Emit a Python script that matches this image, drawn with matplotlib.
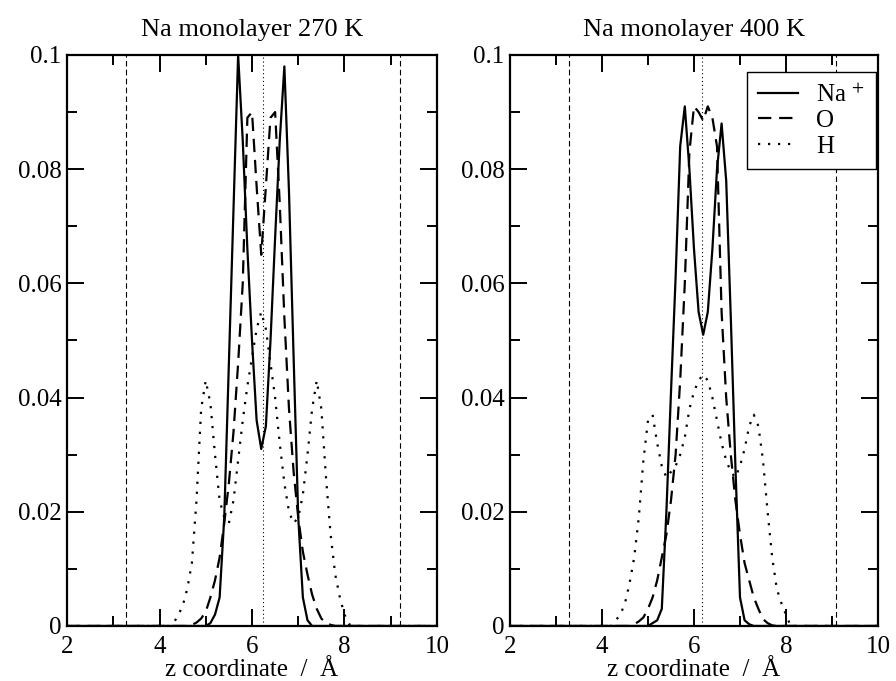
import matplotlib
matplotlib.use('Agg')

import matplotlib.pyplot as plt
from matplotlib.ticker import MultipleLocator, FixedLocator, FixedFormatter
import numpy as np

# === data: density profiles along z, sampled every 0.1 A from 4.0 to 8.5 ===
Z_CORE = np.round(4.0 + 0.1 * np.arange(46), 1)

NA_270 = [0, 0, 0, 0, 0, 0, 0, 0, 0, 0,
          0, 0.0005, 0.002, 0.005, 0.019, 0.046, 0.073, 0.1, 0.085, 0.066,
          0.05, 0.036, 0.031, 0.035, 0.05, 0.068, 0.085, 0.098, 0.076, 0.047,
          0.019, 0.005, 0.001, 0, 0, 0, 0, 0, 0, 0,
          0, 0, 0, 0, 0, 0]
O_270 = [0, 0, 0, 0, 0, 0, 0, 0.0002, 0.0006, 0.0013,
         0.0025, 0.005, 0.008, 0.012, 0.018, 0.025, 0.034, 0.046, 0.06, 0.089,
         0.09, 0.077, 0.065, 0.077, 0.089, 0.09, 0.074, 0.054, 0.038, 0.027,
         0.019, 0.013, 0.009, 0.0055, 0.003, 0.0013, 0.0005, 0.0002, 0, 0,
         0, 0, 0, 0, 0, 0]
H_270 = [0, 0, 0, 0.0005, 0.0018, 0.0035, 0.0065, 0.011, 0.022, 0.038,
         0.043, 0.039, 0.03, 0.022, 0.019, 0.018, 0.022, 0.029, 0.036, 0.042,
         0.047, 0.052, 0.055, 0.052, 0.046, 0.04, 0.032, 0.025, 0.02, 0.018,
         0.019, 0.023, 0.03, 0.038, 0.043, 0.038, 0.026, 0.016, 0.009, 0.005,
         0.002, 0.0003, 0, 0, 0, 0]

NA_400 = [0, 0, 0, 0, 0, 0, 0, 0, 0, 0,
          0, 0.0005, 0.001, 0.003, 0.02, 0.041, 0.061, 0.084, 0.091, 0.08,
          0.066, 0.055, 0.051, 0.055, 0.066, 0.08, 0.088, 0.078, 0.054, 0.028,
          0.005, 0.001, 0.0003, 0, 0, 0, 0, 0, 0, 0,
          0, 0, 0, 0, 0, 0]
O_400 = [0, 0, 0, 0, 0, 0, 0, 0.0003, 0.0008, 0.0015,
         0.003, 0.005, 0.008, 0.012, 0.016, 0.022, 0.03, 0.043, 0.06, 0.083,
         0.091, 0.09, 0.0885, 0.091, 0.089, 0.084, 0.055, 0.04, 0.03, 0.022,
         0.016, 0.011, 0.008, 0.005, 0.003, 0.0012, 0.0005, 0.0001, 0, 0,
         0, 0, 0, 0, 0, 0]
H_400 = [0, 0, 0, 0.001, 0.002, 0.004, 0.0075, 0.012, 0.019, 0.029,
         0.036, 0.037, 0.032, 0.028, 0.026, 0.027, 0.028, 0.03, 0.033, 0.038,
         0.041, 0.043, 0.044, 0.043, 0.04, 0.036, 0.032, 0.029, 0.027, 0.026,
         0.028, 0.031, 0.035, 0.037, 0.035, 0.029, 0.02, 0.012, 0.0065, 0.004,
         0.002, 0, 0, 0, 0, 0]

# boundaries (dashed) and centre (dotted) of the layer
EDGES_270 = [3.28, 9.19]
CENTER_270 = 6.23
EDGES_400 = [3.28, 9.08]
CENTER_400 = 6.18

TITLES = ['Na monolayer 270 K', 'Na monolayer 400 K']
Y_TICKS = [0, 0.02, 0.04, 0.06, 0.08, 0.1]
Y_TICKLABELS = ['0', '0.02', '0.04', '0.06', '0.08', '0.1']
X_LABEL = 'z coordinate  /  Å'
LEGEND = ['Na $^{+}$', 'O', 'H']

plt.rcParams['font.family'] = ['Liberation Serif', 'DejaVu Serif']
plt.rcParams['mathtext.fontset'] = 'stix'

z = np.concatenate([[2.0], Z_CORE, [10.0]])


def pad(v):
    return np.concatenate([[0.0], v, [0.0]])


fig = plt.figure(figsize=(8.96, 6.81), dpi=100)
ax1 = fig.add_axes([0.0748, 0.0808, 0.4129, 0.8385])
ax2 = fig.add_axes([0.5692, 0.0808, 0.4107, 0.8385])

panels = [
    (ax1, NA_270, O_270, H_270, EDGES_270, CENTER_270, TITLES[0]),
    (ax2, NA_400, O_400, H_400, EDGES_400, CENTER_400, TITLES[1]),
]

for ax, na, o, h, edges, center, title in panels:
    for e in edges:
        ax.axvline(e, color='black', lw=0.8, ls=(0, (5, 3)), zorder=1)
    ax.axvline(center, color='black', lw=0.8, ls=(0, (1, 2.5)), zorder=1)

    l1, = ax.plot(z, pad(na), color='black', lw=1.6, zorder=3)
    l2, = ax.plot(z, pad(o), color='black', lw=1.6, ls=(0, (6, 3.5)), zorder=3)
    l3, = ax.plot(z, pad(h), color='black', lw=1.6, ls=(0, (1, 3.5)), zorder=3)

    ax.set_xlim(2, 10)
    ax.set_ylim(0, 0.1)
    ax.xaxis.set_major_locator(MultipleLocator(2))
    ax.xaxis.set_minor_locator(MultipleLocator(1))
    ax.yaxis.set_major_locator(FixedLocator(Y_TICKS))
    ax.yaxis.set_major_formatter(FixedFormatter(Y_TICKLABELS))
    ax.yaxis.set_minor_locator(MultipleLocator(0.01))
    ax.tick_params(which='both', direction='in', top=True, right=True,
                   width=1.4, labelsize=18)
    ax.tick_params(which='major', length=12, pad=4)
    ax.tick_params(axis='x', which='major', pad=7)
    ax.tick_params(which='minor', length=7)
    for s in ax.spines.values():
        s.set_linewidth(1.6)

    ax.set_title(title, fontsize=19, pad=14)
    ax.set_xlabel(X_LABEL, fontsize=18, labelpad=1)

leg = ax2.legend([l1, l2, l3], LEGEND, loc='upper right',
                 bbox_to_anchor=(0.995, 0.97), borderaxespad=0,
                 fontsize=18, handlelength=1.6, handletextpad=0.7,
                 labelspacing=0.12, borderpad=0.45, fancybox=False,
                 framealpha=1, edgecolor='black')
leg.get_frame().set_linewidth(1.0)

fig.savefig('out.png', dpi=100)
